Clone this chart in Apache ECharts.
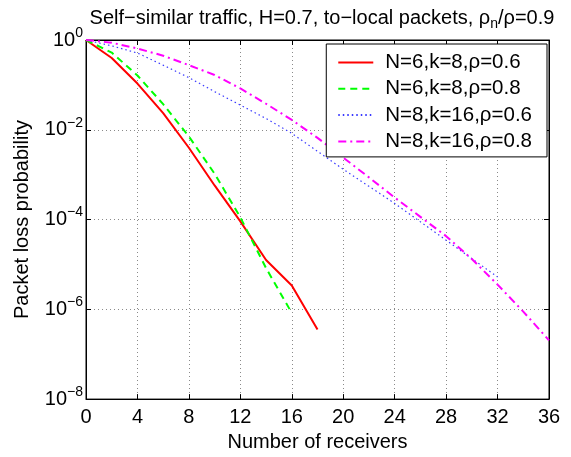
<!DOCTYPE html>
<html>
<head>
<meta charset="utf-8">
<script src="https://cdn.jsdelivr.net/npm/echarts@6/dist/echarts.min.js"></script>
<style>
  html, body { margin: 0; padding: 0; background: #fff; }
  #chart { width: 571px; height: 457px; }
</style>
</head>
<body>
<div id="chart"></div>
<script>
// receivers (x) and packet loss probability (y) for each curve
const recvN6rho06 = [0, 2, 4, 6, 8, 10, 12, 14, 16, 18]
const lossN6rho06 = [1, 0.398, 0.107, 0.0234, 0.00398, 5.75e-4, 9.1e-5, 1.26e-5, 3.39e-6, 3.55e-7]

const recvN6rho08 = [0, 2, 4, 6, 8, 10, 12, 14, 16]
const lossN6rho08 = [1, 0.525, 0.162, 0.0372, 0.00708, 1.05e-3, 1.12e-4, 8.3e-6, 8.3e-7]

const recvN8rho06 = [0, 2, 4, 6, 8, 10, 12, 14, 16, 18, 20, 22, 24, 26, 28, 30, 32]
const lossN8rho06 = [1, 0.741, 0.513, 0.275, 0.145, 0.0708, 0.0355, 0.0178, 0.00832,
  0.00331, 0.00132, 5.5e-4, 2.29e-4, 8.9e-5, 3.47e-5, 1.35e-5, 5.25e-6]

const recvN8rho08 = [0, 2, 4, 6, 8, 10, 12, 14, 16, 18, 20, 22, 24, 26, 28, 30, 32, 34, 36]
const lossN8rho08 = [1, 0.871, 0.646, 0.447, 0.275, 0.166, 0.0832, 0.038, 0.0166,
  0.0066, 0.0024, 8.7e-4, 3.09e-4, 1.15e-4, 4.27e-5, 1.32e-5, 3.55e-6, 8.9e-7, 2.04e-7]

const seriesNames = ['N=6,k=8,ρ=0.6', 'N=6,k=8,ρ=0.8', 'N=8,k=16,ρ=0.6', 'N=8,k=16,ρ=0.8']

const font = 'Liberation Sans, Arial, Helvetica, sans-serif'

const zip = (xs, ys) => xs.map((x, i) => [x, ys[i]])

function pow10Label(v) {
  const e = Math.round(Math.log10(v))
  const s = e < 0 ? '\u2212' + (-e) : String(e)
  return '10{sup|' + s + '}'
}

function makeLine(name, data, color, width, type) {
  return {
    name,
    type: 'line',
    data,
    symbol: 'none',
    xAxisIndex: 0,
    yAxisIndex: 0,
    lineStyle: { color, width, type },
    itemStyle: { color },
    animation: false
  }
}

const gridLine = { show: true, lineStyle: { color: '#8a8a8a', width: 1, type: [1, 3] } }

const chart = echarts.init(document.getElementById('chart'))
chart.setOption({
  backgroundColor: '#fff',
  animation: false,
  title: {
    text: 'Self\u2212similar traffic, H=0.7, to\u2212local packets, ρ{sub|n}/ρ=0.9',
    left: 317,
    textAlign: 'center',
    top: 0,
    textStyle: {
      fontFamily: font,
      fontSize: 20,
      fontWeight: 'normal',
      color: '#000',
      rich: {
        sub: { fontFamily: font, fontSize: 14, color: '#000', padding: [12, 0, 0, 0] }
      }
    }
  },
  grid: {
    left: 86,
    right: 22,
    top: 40,
    bottom: 52,
    show: true,
    borderColor: '#000',
    borderWidth: 1
  },
  legend: {
    orient: 'vertical',
    right: 24,
    top: 44,
    itemWidth: 35,
    itemHeight: 14,
    itemGap: 5.3,
    padding: [8, 15, 5, 11],
    backgroundColor: '#fff',
    borderColor: '#000',
    borderWidth: 1,
    borderRadius: 0,
    itemStyle: { opacity: 0 },
    textStyle: { fontFamily: font, fontSize: 20.5, color: '#000', padding: [0, 0, 0, 7] },
    data: seriesNames
  },
  xAxis: [
    {
      type: 'value',
      min: 0,
      max: 36,
      interval: 4,
      name: 'Number of receivers',
      nameLocation: 'middle',
      nameGap: 25,
      nameTextStyle: { fontFamily: font, fontSize: 20, color: '#000', verticalAlign: 'top' },
      axisLine: { show: true, onZero: false, lineStyle: { color: '#000', width: 1 } },
      axisTick: { show: true, inside: true, length: 5, lineStyle: { color: '#000' } },
      axisLabel: { fontFamily: font, fontSize: 20, color: '#000', margin: 8 },
      splitLine: gridLine
    },
    {
      type: 'value',
      position: 'top',
      min: 0,
      max: 36,
      interval: 4,
      axisLine: { show: true, onZero: false, lineStyle: { color: '#000', width: 1 } },
      axisTick: { show: true, inside: true, length: 5, lineStyle: { color: '#000' } },
      axisLabel: { show: false },
      splitLine: { show: false }
    }
  ],
  yAxis: [
    {
      type: 'log',
      logBase: 10,
      min: 1e-8,
      max: 1,
      interval: 2,
      name: 'Packet loss probability',
      nameLocation: 'middle',
      nameGap: 54,
      nameTextStyle: { fontFamily: font, fontSize: 20, color: '#000' },
      axisLine: { show: true, onZero: false, lineStyle: { color: '#000', width: 1 } },
      axisTick: { show: true, inside: true, length: 5, lineStyle: { color: '#000' } },
      axisLabel: {
        fontFamily: font,
        fontSize: 20,
        color: '#000',
        margin: 3,
        formatter: pow10Label,
        rich: {
          sup: { fontFamily: font, fontSize: 14, color: '#000', padding: [0, 0, 14, 0] }
        }
      },
      splitLine: gridLine
    },
    {
      type: 'log',
      logBase: 10,
      position: 'right',
      min: 1e-8,
      max: 1,
      interval: 2,
      axisLine: { show: true, onZero: false, lineStyle: { color: '#000', width: 1 } },
      axisTick: { show: true, inside: true, length: 5, lineStyle: { color: '#000' } },
      axisLabel: { show: false },
      splitLine: { show: false }
    }
  ],
  series: [
    makeLine(seriesNames[0], zip(recvN6rho06, lossN6rho06), '#ff0000', 2, 'solid'),
    makeLine(seriesNames[1], zip(recvN6rho08, lossN6rho08), '#00ff00', 2, [7, 5]),
    makeLine(seriesNames[2], zip(recvN8rho06, lossN8rho06), '#3a3aff', 1.2, [1.5, 3]),
    makeLine(seriesNames[3], zip(recvN8rho08, lossN8rho08), '#ff00ff', 2, [8, 4, 2, 4])
  ]
})
</script>
</body>
</html>
